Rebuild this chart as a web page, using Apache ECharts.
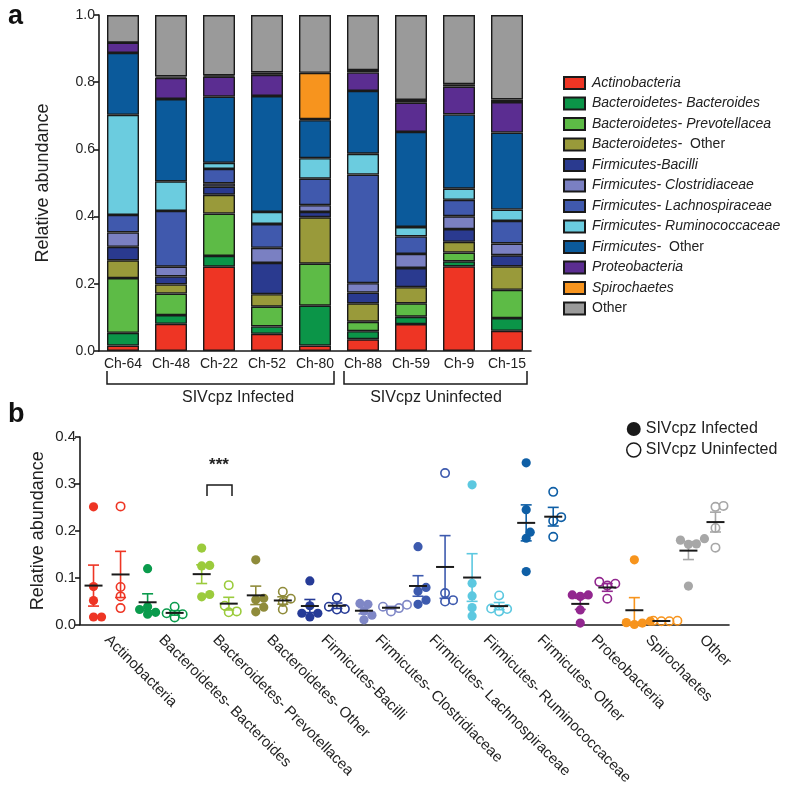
<!DOCTYPE html>
<html>
<head>
<meta charset="utf-8">
<script src="https://cdn.jsdelivr.net/npm/echarts@6/dist/echarts.min.js"></script>
<style>
  html, body { margin: 0; background: #fff; }
  #chart { width: 800px; height: 785px; }
</style>
</head>
<body>
<div id="chart"></div>
<script>
// chimpanzees, first five are SIVcpz infected
const chimps = ['Ch-64', 'Ch-48', 'Ch-22', 'Ch-52', 'Ch-80', 'Ch-88', 'Ch-59', 'Ch-9', 'Ch-15'];
const infectedCount = 5;

const taxa = [
  'Actinobacteria', 'Bacteroidetes- Bacteroides', 'Bacteroidetes- Prevotellacea', 'Bacteroidetes- Other',
  'Firmicutes-Bacilli', 'Firmicutes- Clostridiaceae', 'Firmicutes- Lachnospiraceae', 'Firmicutes- Ruminococcaceae',
  'Firmicutes- Other', 'Proteobacteria', 'Spirochaetes', 'Other'
];

// relative abundance, one value per chimp (order of chimps)
const actinobacteria   = [0.016, 0.081, 0.251, 0.051, 0.016, 0.035, 0.080, 0.252, 0.060];
const bacteroides      = [0.038, 0.026, 0.032, 0.022, 0.119, 0.024, 0.022, 0.015, 0.038];
const prevotellacea    = [0.163, 0.064, 0.126, 0.059, 0.125, 0.028, 0.040, 0.026, 0.084];
const bacteroidetesOth = [0.053, 0.027, 0.056, 0.037, 0.138, 0.055, 0.048, 0.032, 0.070];
const bacilli          = [0.040, 0.024, 0.024, 0.093, 0.016, 0.032, 0.057, 0.038, 0.033];
const clostridiaceae   = [0.043, 0.029, 0.010, 0.045, 0.020, 0.028, 0.042, 0.038, 0.035];
const lachnospiraceae  = [0.052, 0.166, 0.043, 0.071, 0.079, 0.323, 0.052, 0.049, 0.067];
const ruminococcaceae  = [0.298, 0.088, 0.018, 0.036, 0.061, 0.062, 0.028, 0.033, 0.034];
const firmicutesOth    = [0.184, 0.245, 0.197, 0.345, 0.113, 0.187, 0.283, 0.221, 0.229];
const proteobacteria   = [0.031, 0.063, 0.060, 0.063, 0.003, 0.055, 0.087, 0.083, 0.091];
const spirochaetes     = [0.000, 0.004, 0.003, 0.007, 0.138, 0.007, 0.008, 0.007, 0.008];
const other            = [0.082, 0.183, 0.180, 0.171, 0.172, 0.164, 0.253, 0.206, 0.251];

const abundance = [actinobacteria, bacteroides, prevotellacea, bacteroidetesOth, bacilli, clostridiaceae,
  lachnospiraceae, ruminococcaceae, firmicutesOth, proteobacteria, spirochaetes, other];

const yTicksA = [0, 0.2, 0.4, 0.6, 0.8, 1.0];
const yTicksB = [0, 0.1, 0.2, 0.3, 0.4];

const barColors = ['#ee3524', '#0b9548', '#5dbb46', '#999a3a', '#2a3a8f', '#7a80c2',
  '#4059ad', '#6bccdf', '#0b5a9b', '#5b2d91', '#f7941e', '#9a9a9a'];
const dotColors = ['#ee3524', '#0a9b4c', '#9bcb3c', '#8f8b3a', '#263b97', '#7f87c6',
  '#3d5aae', '#5cc8e0', '#0f5fa6', '#92278f', '#f7941d', '#a7a7a7'];

const FONT = '"Liberation Sans", Arial, Helvetica, sans-serif';
const INK = '#1a1a1a';
const PX_PER_UNIT = 187.5 / 0.4; // bottom plot, only used to spread overlapping dots

function meanSem(arr) {
  const n = arr.length;
  const m = arr.reduce((a, b) => a + b, 0) / n;
  const sd = Math.sqrt(arr.reduce((a, b) => a + (b - m) * (b - m), 0) / (n - 1));
  return [m, sd / Math.sqrt(n)];
}

// simple beeswarm: push dots sideways when they would overlap
function swarm(values) {
  const order = values.map((v, i) => i).sort((a, b) => values[a] - values[b]);
  const placed = [];
  const off = values.map(() => 0);
  order.forEach(i => {
    const y = values[i] * PX_PER_UNIT;
    for (let k = 0; k < 30; k++) {
      const cand = k === 0 ? 0 : (k % 2 ? 1 : -1) * Math.ceil(k / 2) * 4;
      if (placed.every(p => Math.hypot(p.x - cand, p.y - y) >= 7)) {
        off[i] = cand;
        placed.push({x: cand, y});
        break;
      }
    }
  });
  return off;
}

// build dot / error bar data for panel b
const slots = [];
const infDots = [], uninfDots = [], bars = [];
abundance.forEach((vals, t) => {
  const groups = [vals.slice(0, infectedCount), vals.slice(infectedCount)];
  groups.forEach((g, k) => {
    const slot = t * 2 + k;
    slots.push(taxa[t] + (k ? ' U' : ' I'));
    const off = swarm(g);
    g.forEach((v, i) => (k ? uninfDots : infDots).push([slot, v, off[i]]));
    const [m, s] = meanSem(g);
    bars.push([slot, m, s]);
  });
});

function renderDot(hollow) {
  return function (params, api) {
    const slot = api.value(0);
    const p = api.coord([slot, api.value(1)]);
    const color = dotColors[Math.floor(slot / 2)];
    return {
      type: 'circle',
      shape: {cx: p[0] + api.value(2), cy: p[1], r: hollow ? 4.2 : 4.6},
      style: hollow ? {fill: 'none', stroke: color, lineWidth: 1.6} : {fill: color}
    };
  };
}

function renderErr(params, api) {
  const slot = api.value(0), m = api.value(1), s = api.value(2);
  const pm = api.coord([slot, m]);
  const ph = api.coord([slot, m + s]);
  const pl = api.coord([slot, m - s]);
  const color = dotColors[Math.floor(slot / 2)];
  const st = {stroke: color, lineWidth: 1.6};
  return {
    type: 'group',
    children: [
      {type: 'line', shape: {x1: pm[0], y1: ph[1], x2: pm[0], y2: pl[1]}, style: st},
      {type: 'line', shape: {x1: pm[0] - 5.5, y1: ph[1], x2: pm[0] + 5.5, y2: ph[1]}, style: st},
      {type: 'line', shape: {x1: pm[0] - 5.5, y1: pl[1], x2: pm[0] + 5.5, y2: pl[1]}, style: st},
      {type: 'line', shape: {x1: pm[0] - 9, y1: pm[1], x2: pm[0] + 9, y2: pm[1]}, style: {stroke: INK, lineWidth: 2}}
    ]
  };
}

function legendLabel(name) {
  if (name === 'Other') return '{n|Other}';
  if (/- Other$/.test(name)) return '{i|' + name.replace(' Other', '') + '}{n|  Other}';
  return '{i|' + name + '}';
}

const axisLineStyle = {color: INK, width: 1.6};

const barSeries = taxa.map((name, t) => ({
  name,
  type: 'bar',
  stack: 'total',
  xAxisIndex: 0,
  yAxisIndex: 0,
  barWidth: 32,
  data: abundance[t],
  itemStyle: {color: barColors[t], borderColor: INK, borderWidth: 1.4},
  emphasis: {disabled: true}
}));

const option = {
  animation: false,
  textStyle: {fontFamily: FONT},
  grid: [
    {left: 99, top: 15, width: 432, height: 336, outerBoundsMode: 'none'},
    {left: 80, top: 437, width: 649, height: 187.5, outerBoundsMode: 'none'}
  ],
  xAxis: [
    {
      type: 'category', gridIndex: 0, data: chimps,
      axisLine: {lineStyle: axisLineStyle},
      axisTick: {alignWithLabel: true, length: 4, lineStyle: axisLineStyle},
      axisLabel: {color: '#222', fontSize: 14, margin: 6, interval: 0}
    },
    {
      type: 'category', gridIndex: 1, data: slots,
      axisLine: {lineStyle: axisLineStyle},
      axisTick: {alignWithLabel: true, length: 6, interval: 0, lineStyle: axisLineStyle},
      axisLabel: {show: false}
    },
    {
      type: 'category', gridIndex: 1, data: taxa, position: 'bottom',
      axisLine: {show: false}, axisTick: {show: false},
      axisLabel: {rotate: -45, margin: 13, fontSize: 15, color: '#222', interval: 0}
    }
  ],
  yAxis: [
    {
      type: 'value', gridIndex: 0, min: 0, max: 1, interval: 0.2,
      name: 'Relative abundance', nameLocation: 'middle', nameGap: 47, nameMoveOverlap: false,
      nameTextStyle: {fontSize: 18, color: '#222'},
      axisLine: {show: true, lineStyle: axisLineStyle},
      axisTick: {show: true, length: 5, lineStyle: axisLineStyle},
      splitLine: {show: false},
      axisLabel: {fontSize: 14, color: '#222', margin: 4,
        formatter: v => (yTicksA.includes(+v.toFixed(1)) ? v.toFixed(1) : '')}
    },
    {
      type: 'value', gridIndex: 1, min: 0, max: 0.4, interval: 0.1,
      name: 'Relative abundance', nameLocation: 'middle', nameGap: 33, nameMoveOverlap: false,
      nameTextStyle: {fontSize: 18, color: '#222'},
      axisLine: {show: true, lineStyle: axisLineStyle},
      axisTick: {show: true, length: 5, lineStyle: axisLineStyle},
      splitLine: {show: false},
      axisLabel: {fontSize: 15, color: '#222', margin: 4,
        formatter: v => (yTicksB.includes(+v.toFixed(1)) ? v.toFixed(1) : '')}
    }
  ],
  legend: [
    {
      data: taxa, orient: 'vertical', left: 558, top: 71,
      itemWidth: 21, itemHeight: 12, itemGap: 6.5, icon: 'rect',
      selectedMode: false,
      formatter: legendLabel,
      textStyle: {
        fontSize: 14, color: '#222', padding: [0, 0, 0, 2],
        rich: {
          i: {fontStyle: 'italic', fontSize: 14, color: '#222', fontFamily: FONT},
          n: {fontSize: 14, color: '#222', fontFamily: FONT}
        }
      }
    },
    {
      data: [
        {name: 'SIVcpz Infected', icon: 'circle', itemStyle: {color: INK}},
        {name: 'SIVcpz Uninfected', icon: 'circle', itemStyle: {color: '#fff', borderColor: INK, borderWidth: 1.5}}
      ],
      orient: 'vertical', left: 621, top: 416,
      itemWidth: 14, itemHeight: 14, itemGap: 5, itemTextGap: 7, selectedMode: false,
      textStyle: {fontSize: 16, color: '#222'}
    }
  ],
  series: barSeries.concat([
    {
      name: 'SIVcpz Infected', type: 'custom', xAxisIndex: 1, yAxisIndex: 1,
      renderItem: renderDot(false), data: infDots, z: 3
    },
    {
      name: 'SIVcpz Uninfected', type: 'custom', xAxisIndex: 1, yAxisIndex: 1,
      renderItem: renderDot(true), data: uninfDots, z: 3
    },
    {
      name: 'mean', type: 'custom', xAxisIndex: 1, yAxisIndex: 1,
      renderItem: renderErr, data: bars, z: 4
    }
  ]),
  graphic: [
    {type: 'text', left: 8, top: 3, style: {text: 'a', font: 'bold 27px ' + FONT, fill: '#111'}},
    {type: 'text', left: 8, top: 401, style: {text: 'b', font: 'bold 27px ' + FONT, fill: '#111'}},
    {type: 'polyline', shape: {points: [[107, 371], [107, 384], [334, 384], [334, 371]]},
      style: {stroke: INK, lineWidth: 1.5, fill: 'none'}},
    {type: 'polyline', shape: {points: [[344, 371], [344, 384], [527, 384], [527, 371]]},
      style: {stroke: INK, lineWidth: 1.5, fill: 'none'}},
    {type: 'text', x: 238, y: 398, style: {text: 'SIVcpz Infected', font: '16px ' + FONT, fill: '#222',
      align: 'center', verticalAlign: 'middle'}},
    {type: 'text', x: 436, y: 398, style: {text: 'SIVcpz Uninfected', font: '16px ' + FONT, fill: '#222',
      align: 'center', verticalAlign: 'middle'}},
    {type: 'text', x: 219, y: 465, style: {text: '***', font: 'bold 17px ' + FONT, fill: '#222',
      align: 'center', verticalAlign: 'middle'}},
    {type: 'polyline', shape: {points: [[207, 496], [207, 485], [232, 485], [232, 496]]},
      style: {stroke: INK, lineWidth: 1.5, fill: 'none'}}
  ]
};

const chart = echarts.init(document.getElementById('chart'));
chart.setOption(option);
</script>
</body>
</html>
